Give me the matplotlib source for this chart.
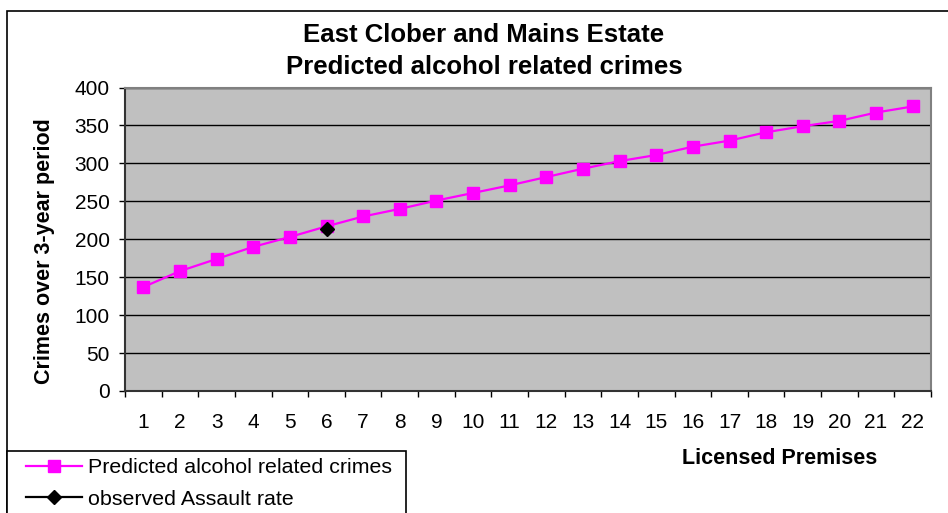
import numpy as np
import matplotlib
matplotlib.use('Agg')
import matplotlib.pyplot as plt
from matplotlib.patches import Rectangle

plt.rcParams['font.family'] = ['Liberation Sans', 'DejaVu Sans']

premises = list(range(1, 23))
predicted = [137, 158, 174, 190, 203, 217, 230, 240, 251, 261, 271, 282,
             293, 303, 311, 322, 330, 341, 349, 356, 367, 375]
observed_x = [6]
observed_y = [213]

fig = plt.figure(figsize=(9.48, 5.13), dpi=100)
W, H = 948, 513

# chart frame (cut off at right/bottom like the source)
fig.add_artist(Rectangle((7 / W, -0.1), 1.2, 1 - 11 / H + 0.1, transform=fig.transFigure,
                         fill=False, edgecolor='black', lw=1.2))
# legend box, also cut off at the bottom
fig.add_artist(Rectangle((7 / W, -0.1), (406 - 7) / W, 0.1 + 1 - 451 / H,
                         transform=fig.transFigure, facecolor='white',
                         edgecolor='black', lw=1.2, zorder=2))

ax = fig.add_axes([125 / W, 1 - 391 / H, (931 - 125) / W, (391 - 87.5) / H])
ax.set_facecolor('#C0C0C0')

ax.plot(premises, predicted, color='#FF00FF', lw=1.6, marker='s', markersize=8.5,
        markeredgecolor='#FF00FF', label='Predicted alcohol related crimes', zorder=3)
ax.plot(observed_x, observed_y, color='black', lw=1.6, marker='D', markersize=7,
        label='observed Assault rate', zorder=4)

ax.set_xlim(0.5, 22.5)
ax.set_ylim(0, 400)
ax.set_yticks(np.arange(0, 401, 50))
ax.yaxis.grid(True, color='black', lw=1)
ax.set_axisbelow(True)

ax.set_xticks(premises)
ax.set_xticks(np.arange(0.5, 23, 1), minor=True)
ax.tick_params(axis='x', which='major', length=0, pad=16, labelsize=15)
ax.tick_params(axis='x', which='minor', length=4.5, width=1, direction='out')
ax.tick_params(axis='y', length=4, width=1, pad=7, labelsize=15)

for s in ['top', 'right']:
    ax.spines[s].set_color('#808080')
    ax.spines[s].set_linewidth(1.5)
for s in ['left', 'bottom']:
    ax.spines[s].set_color('#333333')
    ax.spines[s].set_linewidth(1.5)

fig.text(484 / W, 1 - 35 / H, 'East Clober and Mains Estate', ha='center', va='center',
         fontsize=18.5, fontweight='bold')
fig.text(484 / W, 1 - 67 / H, 'Predicted alcohol related crimes', ha='center', va='center',
         fontsize=18.5, fontweight='bold')
fig.text(45 / W, 1 - 251 / H, 'Crimes over 3-year period', rotation=90, ha='center',
         va='center', fontsize=15.5, fontweight='bold')
fig.text(780 / W, 1 - 459 / H, 'Licensed Premises', ha='center', va='center',
         fontsize=15.5, fontweight='bold')

leg = fig.legend(loc='upper left', bbox_to_anchor=(24 / W, 1 - 456 / H), fontsize=15.4,
                 frameon=False, borderpad=0.1, handlelength=2.6, handletextpad=0.3,
                 labelspacing=0.6, borderaxespad=0)
leg.set_zorder(3)

fig.savefig('out.png', dpi=100)
